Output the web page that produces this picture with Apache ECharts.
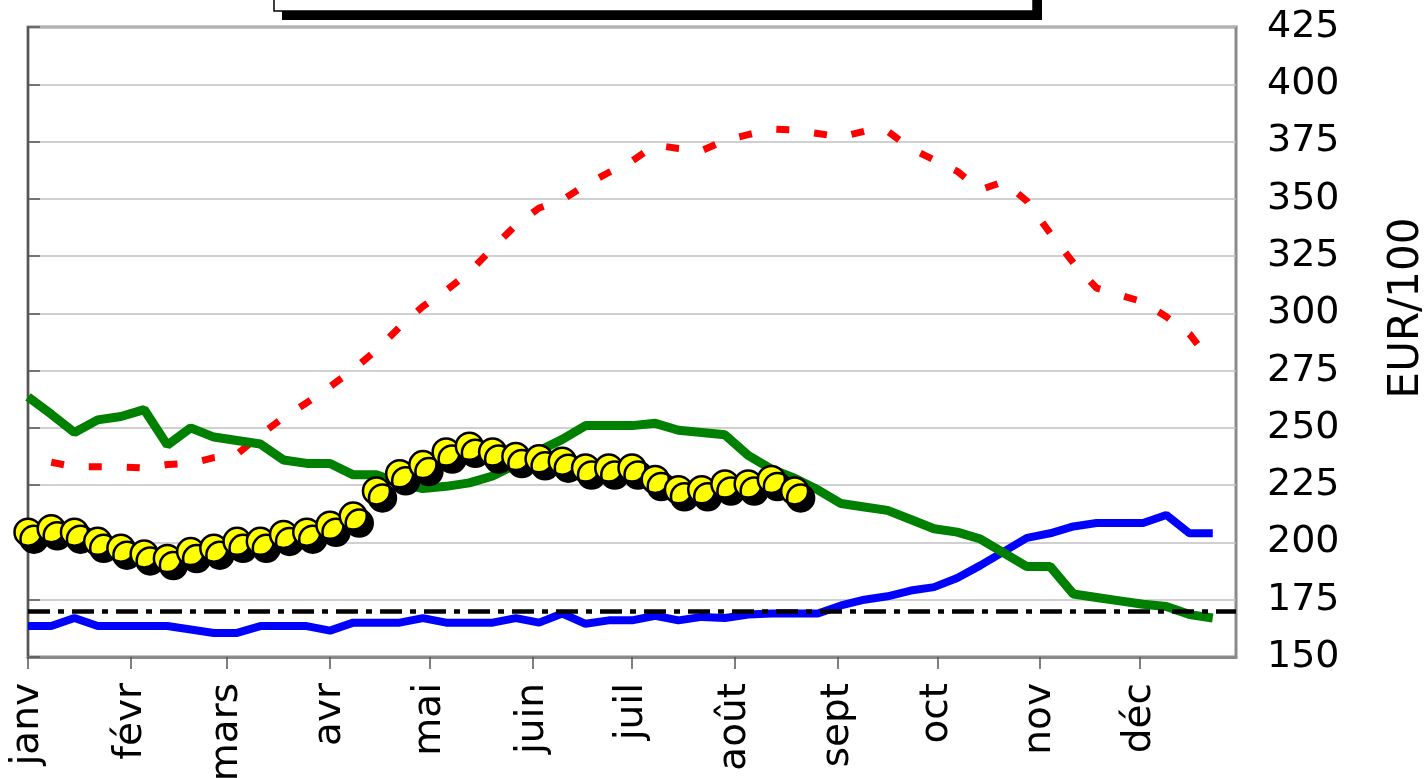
<!DOCTYPE html>
<html>
<head>
<meta charset="utf-8">
<script src="https://cdn.jsdelivr.net/npm/echarts@6/dist/echarts.min.js"></script>
<style>
html,body{margin:0;padding:0;background:#fff;}
#chart{width:1428px;height:778px;}
</style>
</head>
<body>
<div id="chart"></div>
<script>
// Week start (day of year) for each weekly observation
const weekDays = [0,7,14,21,28,35,42,49,56,63,70,77,84,91,98,105,112,119,126,133,140,147,154,161,168,175,182,189,196,203,210,217,224,231,238,245,252,259,266,273,280,287,294,301,308,315,322,329,336,343,350,357];
// Month starts (day of year) and labels
const monthStarts = [0,31,60,91,121,152,182,213,244,274,305,335];
const monthLabels = ['janv','févr','mars','avr','mai','juin','juil','août','sept','oct','nov','déc'];

// Series values (EUR/100)
const redValues = [null,235,233,233,233,232.5,234,234.5,237,238.5,247,254.5,261,268,275.5,284,294,303,310,318,328.5,338.5,346,349.5,356,361.5,366.5,373.5,372,371,375.5,378,380.5,380,378.5,377,379.5,379.5,372,367,362,354,357.5,349,335,322,311,308,305,298.5,291,278];
const greenValues = [263.5,256,248,253.5,255,258,242.5,250,246,244.5,243,236,234.5,234.5,229.5,229.5,226,223.5,224.5,226,229,234,240,245,251,251,251,252,249,248,247,238,232,228,223,217,215.5,214,210,206,204.5,201.5,195.5,189.5,189.5,177.5,176,174.5,173,172,168.5,167];
const blueValues = [163.5,163.5,167,163.5,163.5,163.5,163.5,162,160.5,160.5,163.5,163.5,163.5,161.5,165,165,165,167,165,165,165,167,165,169,164.5,166,166,168,166,167.5,167,168.5,169,169,169,172.5,175,176.5,179,180.5,184.5,190,196,202,204,207,208.5,208.5,208.5,212,204,204];
const yellowValues = [204.5,206,204.5,200.5,197.5,195,193,196,197.5,200.5,200.5,203.5,204.5,207.5,211.5,222.5,230,234,239.5,242,239.5,237.5,236.5,235.5,232.5,232.5,232.5,227.5,223,223,225.5,225.5,227.5,222.5];
const thresholdValue = 170;

const yMin = 150, yMax = 425, yStep = 25;
const axisName = 'EUR/100';

function pairs(vals){ return vals.map((v,i)=>[weekDays[i], v]); }

const FONT = 'DejaVu Sans';
const chart = echarts.init(document.getElementById('chart'), null, {renderer:'canvas'});
chart.setOption({
  animation: false,
  backgroundColor: '#fff',
  grid: {left: 28, right: 192, top: 27, bottom: 121, show: true, borderColor: '#8a8a8a', borderWidth: 3, containLabel: false, outerBoundsMode: 'none'},
  graphic: [
    {type:'rect', shape:{x:282, y:-40, width:760, height:60}, style:{fill:'#000'}, z: 100},
    {type:'rect', shape:{x:274, y:-40, width:759, height:51}, style:{fill:'#fff', stroke:'#000', lineWidth:1.5}, z: 101}
  ],
  xAxis: {
    type: 'value', min: 0, max: 364,
    axisLine: {show: true, lineStyle: {color: '#8a8a8a', width: 3}},
    axisTick: {show: true, length: 12, customValues: monthStarts, lineStyle: {color: '#555', width: 1.5}},
    axisLabel: {
      customValues: monthStarts,
      rotate: 90, margin: 26, color: '#000', fontFamily: FONT, fontSize: 39,
      formatter: function(v){ const i = monthStarts.indexOf(Math.round(v)); return i >= 0 ? monthLabels[i] : ''; }
    },
    splitLine: {show: false}
  },
  yAxis: {
    type: 'value', position: 'right', min: yMin, max: yMax, interval: yStep,
    name: axisName, nameLocation: 'middle', nameRotate: 90, nameGap: 150,
    nameTextStyle: {color: '#000', fontFamily: FONT, fontSize: 42, padding: [0,0,0,68]},
    axisLine: {show: true, lineStyle: {color: '#555', width: 2}},
    axisTick: {show: true, length: 12, inside: false, lineStyle: {color: '#555', width: 1.5}},
    axisLabel: {margin: 31, color: '#000', fontFamily: FONT, fontSize: 38},
    splitLine: {show: true, lineStyle: {color: '#c0c0c0', width: 1.5}}
  },
  series: [
    {
      name: 'red', type: 'line', data: pairs(redValues), showSymbol: false, connectNulls: false,
      lineStyle: {color: '#ff0000', width: 7, type: [13, 25], cap: 'butt'}, z: 2,
      markLine: {
        silent: true, symbol: 'none', label: {show: false},
        lineStyle: {color: '#000', width: 4.5, type: [22, 8, 6, 8]},
        data: [{yAxis: thresholdValue}]
      }
    },
    {name: 'blue', type: 'line', data: pairs(blueValues), showSymbol: false, lineStyle: {color: '#0000ff', width: 8}, z: 3},
    {name: 'green', type: 'line', data: pairs(greenValues), showSymbol: false, lineStyle: {color: '#008000', width: 9}, z: 4},
    {
      name: 'yellow', type: 'line', data: pairs(yellowValues), symbol: 'circle', symbolSize: 27, showAllSymbol: true,
      lineStyle: {width: 0, opacity: 0},
      itemStyle: {color: '#ffff00', borderColor: '#000', borderWidth: 2.5, shadowColor: '#000', shadowBlur: 0, shadowOffsetX: 6, shadowOffsetY: 7},
      z: 5
    }
  ]
});
</script>
</body>
</html>
